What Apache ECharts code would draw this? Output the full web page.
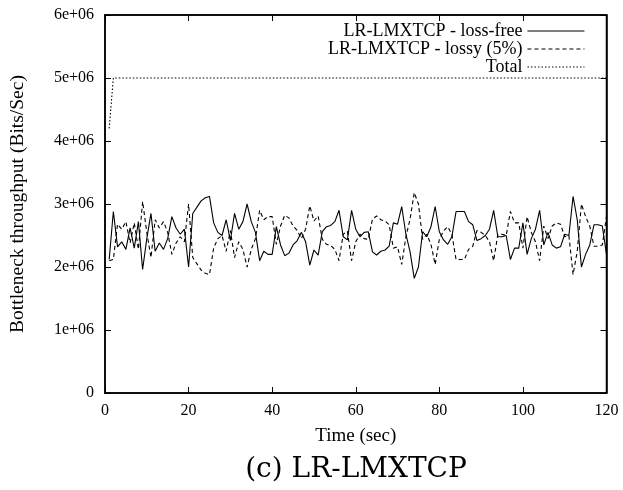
<!DOCTYPE html>
<html>
<head>
<meta charset="utf-8">
<script src="https://cdn.jsdelivr.net/npm/echarts@6/dist/echarts.min.js"></script>
<style>html,body{margin:0;padding:0;background:#fff}#c{width:623px;height:490px}</style>
</head>
<body>
<div id="c"></div>
<script>
// Time (sec)
var times = [];
for (var i = 1; i <= 120; i++) times.push(i);

// LR-LMXTCP - loss-free (Bits/Sec)
var lossFree = [
2.12e6,2.88e6,2.32e6,2.40e6,2.28e6,2.62e6,2.30e6,2.72e6,1.96e6,2.45e6,
2.85e6,2.25e6,2.38e6,2.28e6,2.45e6,2.80e6,2.62e6,2.52e6,2.60e6,2.00e6,
2.85e6,2.95e6,3.05e6,3.10e6,3.12e6,2.70e6,2.55e6,2.50e6,2.75e6,2.42e6,
2.85e6,2.60e6,2.72e6,3.00e6,2.72e6,2.55e6,2.10e6,2.25e6,2.20e6,2.20e6,
2.64e6,2.35e6,2.18e6,2.22e6,2.35e6,2.42e6,2.55e6,2.40e6,2.03e6,2.27e6,
2.19e6,2.56e6,2.64e6,2.66e6,2.72e6,2.90e6,2.48e6,2.43e6,2.90e6,2.60e6,
2.48e6,2.55e6,2.56e6,2.24e6,2.19e6,2.25e6,2.27e6,2.33e6,2.70e6,2.68e6,
2.96e6,2.52e6,2.24e6,1.82e6,2.00e6,2.56e6,2.48e6,2.64e6,2.96e6,2.56e6,
2.43e6,2.36e6,2.48e6,2.88e6,2.88e6,2.88e6,2.72e6,2.67e6,2.42e6,2.45e6,
2.50e6,2.60e6,2.90e6,2.48e6,2.48e6,2.50e6,2.12e6,2.30e6,2.30e6,2.70e6,
2.20e6,2.45e6,2.60e6,2.90e6,2.35e6,2.55e6,2.35e6,2.30e6,2.32e6,2.52e6,
2.50e6,3.12e6,2.75e6,2.00e6,2.20e6,2.35e6,2.67e6,2.67e6,2.65e6,2.20e6
];

// LR-LMXTCP - lossy (5%) (Bits/Sec)
var lossy = [
2.10e6,2.12e6,2.68e6,2.60e6,2.72e6,2.38e6,2.70e6,2.28e6,3.04e6,2.55e6,
2.15e6,2.75e6,2.62e6,2.72e6,2.55e6,2.20e6,2.38e6,2.48e6,2.40e6,3.00e6,
2.15e6,2.05e6,1.95e6,1.90e6,1.88e6,2.30e6,2.45e6,2.50e6,2.25e6,2.58e6,
2.15e6,2.40e6,2.28e6,2.00e6,2.28e6,2.45e6,2.90e6,2.75e6,2.80e6,2.80e6,
2.36e6,2.65e6,2.82e6,2.78e6,2.65e6,2.58e6,2.45e6,2.60e6,2.97e6,2.73e6,
2.81e6,2.44e6,2.36e6,2.34e6,2.28e6,2.10e6,2.52e6,2.57e6,2.10e6,2.40e6,
2.52e6,2.45e6,2.44e6,2.76e6,2.81e6,2.75e6,2.73e6,2.67e6,2.30e6,2.32e6,
2.04e6,2.48e6,2.76e6,3.18e6,3.00e6,2.44e6,2.52e6,2.36e6,2.04e6,2.44e6,
2.57e6,2.64e6,2.52e6,2.12e6,2.12e6,2.12e6,2.28e6,2.33e6,2.58e6,2.55e6,
2.50e6,2.40e6,2.10e6,2.52e6,2.52e6,2.50e6,2.88e6,2.70e6,2.70e6,2.30e6,
2.80e6,2.55e6,2.40e6,2.10e6,2.65e6,2.45e6,2.65e6,2.70e6,2.68e6,2.48e6,
2.50e6,1.88e6,2.25e6,3.00e6,2.80e6,2.65e6,2.33e6,2.33e6,2.35e6,2.80e6
];

// Total (Bits/Sec)
var total = [
4.2e6,5e6,5e6,5e6,5e6,5e6,5e6,5e6,5e6,5e6,
5e6,5e6,5e6,5e6,5e6,5e6,5e6,5e6,5e6,5e6,
5e6,5e6,5e6,5e6,5e6,5e6,5e6,5e6,5e6,5e6,
5e6,5e6,5e6,5e6,5e6,5e6,5e6,5e6,5e6,5e6,
5e6,5e6,5e6,5e6,5e6,5e6,5e6,5e6,5e6,5e6,
5e6,5e6,5e6,5e6,5e6,5e6,5e6,5e6,5e6,5e6,
5e6,5e6,5e6,5e6,5e6,5e6,5e6,5e6,5e6,5e6,
5e6,5e6,5e6,5e6,5e6,5e6,5e6,5e6,5e6,5e6,
5e6,5e6,5e6,5e6,5e6,5e6,5e6,5e6,5e6,5e6,
5e6,5e6,5e6,5e6,5e6,5e6,5e6,5e6,5e6,5e6,
5e6,5e6,5e6,5e6,5e6,5e6,5e6,5e6,5e6,5e6,
5e6,5e6,5e6,5e6,5e6,5e6,5e6,5e6,5e6,5e6
];

var seriesNames = ['LR-LMXTCP - loss-free', 'LR-LMXTCP - lossy (5%)', 'Total'];
var xTicks = [0, 20, 40, 60, 80, 100, 120];
var yTickLabels = ['0', '1e+06', '2e+06', '3e+06', '4e+06', '5e+06', '6e+06'];
var xTitle = 'Time (sec)';
var yTitle = 'Bottleneck throughput (Bits/Sec)';
var caption = '(c) LR-LMXTCP';

function pairs(vals) { return times.map(function (t, i) { return [t, vals[i]]; }); }

var font = 'Liberation Serif';
var chart = echarts.init(document.getElementById('c'), null, { renderer: 'canvas' });
var axisLine = { show: true, onZero: false, lineStyle: { color: '#000', width: 1.5 } };
var tick = { show: true, inside: true, length: 6, lineStyle: { color: '#000', width: 1 } };

chart.setOption({
  animation: false,
  backgroundColor: '#fff',
  grid: { left: 105, right: 16.5, top: 15, bottom: 97, containLabel: false,
    show: true, borderColor: '#000', borderWidth: 1.5, backgroundColor: 'transparent' },
  legend: {
    orient: 'vertical', right: 38, top: 22, align: 'right', padding: 0,
    itemWidth: 57, itemHeight: 12, itemGap: 0,
    lineStyle: { width: 1.1 },
    itemStyle: { color: 'rgba(0,0,0,0)', borderColor: 'rgba(0,0,0,0)', borderWidth: 0, opacity: 0 },
    textStyle: { fontFamily: font, fontSize: 18, color: '#000' },
    data: seriesNames.slice()
  },
  xAxis: [{
    type: 'value', min: 0, max: 120, interval: 20,
    axisLine: axisLine, axisTick: tick, splitLine: { show: false },
    axisLabel: { margin: 10, fontFamily: font, fontSize: 16, color: '#000',
      formatter: function (v) { return xTicks.indexOf(v) >= 0 ? String(v) : ''; } },
    name: xTitle, nameLocation: 'middle', nameGap: 34,
    nameTextStyle: { fontFamily: font, fontSize: 19, color: '#000' }
  }, {
    type: 'value', min: 0, max: 120, interval: 20, position: 'top',
    axisLine: axisLine, axisTick: tick, axisLabel: { show: false }, splitLine: { show: false }
  }],
  yAxis: [{
    type: 'value', min: 0, max: 6e6, interval: 1e6,
    axisLine: axisLine, axisTick: tick, splitLine: { show: false },
    axisLabel: { margin: 11, fontFamily: font, fontSize: 16, color: '#000',
      formatter: function (v) { return yTickLabels[Math.round(v / 1e6)]; } },
    name: yTitle, nameLocation: 'middle', nameGap: 77, nameRotate: 90,
    nameTextStyle: { fontFamily: font, fontSize: 19.5, color: '#000' }
  }, {
    type: 'value', min: 0, max: 6e6, interval: 1e6, position: 'right',
    axisLine: axisLine, axisTick: tick, axisLabel: { show: false }, splitLine: { show: false }
  }],
  series: [{
    name: seriesNames[0], type: 'line', data: pairs(lossFree), symbol: 'none',
    lineStyle: { color: '#000', width: 1.1, type: 'solid' }, itemStyle: { color: '#000' }
  }, {
    name: seriesNames[1], type: 'line', data: pairs(lossy), symbol: 'none',
    lineStyle: { color: '#000', width: 1.1, type: [4, 3] }, itemStyle: { color: '#000' }
  }, {
    name: seriesNames[2], type: 'line', data: pairs(total), symbol: 'none',
    lineStyle: { color: '#000', width: 1.1, type: [1.5, 2] }, itemStyle: { color: '#000' }
  }, {
    name: 'mirror', type: 'line', data: [], xAxisIndex: 1, yAxisIndex: 1, symbol: 'none', silent: true
  }],
  graphic: [{
    type: 'text', x: 356, y: 470,
    style: { text: caption, fontFamily: 'DejaVu Serif', fontSize: 28, fontWeight: 300, fill: '#000', align: 'center', verticalAlign: 'middle' }
  }]
});
</script>
</body>
</html>
